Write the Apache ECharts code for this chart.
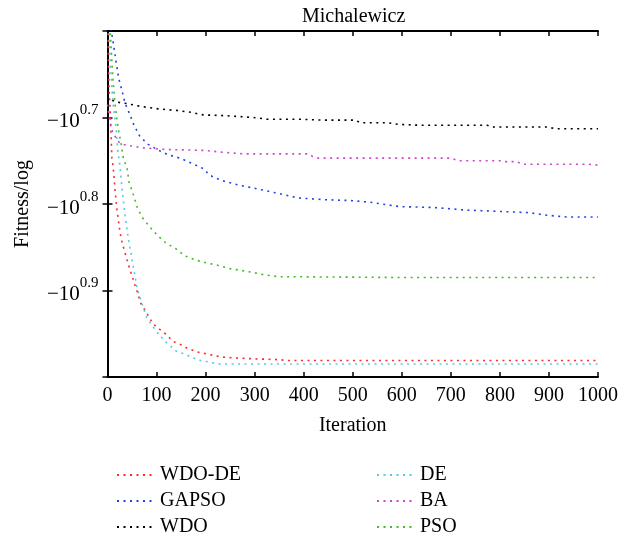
<!DOCTYPE html>
<html>
<head>
<meta charset="utf-8">
<script src="https://cdn.jsdelivr.net/npm/echarts@6/dist/echarts.min.js"></script>
<style>html,body{margin:0;padding:0;background:#fff}#c{width:634px;height:541px}</style>
</head>
<body>
<div id="c"></div>
<script>
// Values are exponents e of fitness = -10^e (log10 of |fitness|)
const xTicks = [0,100,200,300,400,500,600,700,800,900,1000];
const yTickExps = [0.7, 0.8, 0.9];

const wdodeIter = [0,2,3,5,6,7,8,9,11,13,15,19,23,26,30,36,41,47,55,61,68,80,92,102,118,134,151,163,183,207,234,260,300,350,370,1000];
const wdodeVal  = [0.55,0.636,0.663,0.686,0.701,0.717,0.732,0.747,0.755,0.766,0.782,0.805,0.822,0.834,0.845,0.857,0.867,0.878,0.892,0.902,0.915,0.926,0.938,0.943,0.950,0.959,0.963,0.967,0.971,0.974,0.977,0.978,0.979,0.980,0.981,0.981];

const gapsoIter = [0,11,17,23,30,36,40,46,54,66,83,101,123,148,172,195,209,234,266,293,342,389,442,495,536,595,664,730,818,859,896,936,1000];
const gapsoVal  = [0.575,0.611,0.634,0.655,0.670,0.684,0.689,0.697,0.709,0.722,0.731,0.737,0.743,0.747,0.753,0.759,0.767,0.773,0.778,0.781,0.787,0.793,0.795,0.796,0.798,0.803,0.804,0.807,0.809,0.810,0.813,0.815,0.815];

const wdoIter = [0,5,17,40,66,103,144,170,195,244,297,326,393,438,505,515,570,593,638,774,787,897,913,1000];
const wdoVal  = [0.675,0.679,0.682,0.684,0.687,0.690,0.692,0.694,0.697,0.698,0.700,0.702,0.702,0.703,0.703,0.706,0.706,0.708,0.709,0.709,0.711,0.711,0.713,0.713];

const deIter = [0,4,8,12,17,21,24,27,30,33,36,40,43,48,52,57,60,66,72,80,90,102,110,118,128,140,160,170,190,210,230,1000];
const deVal  = [0.55,0.613,0.659,0.687,0.710,0.739,0.750,0.766,0.785,0.799,0.815,0.830,0.842,0.857,0.871,0.886,0.897,0.907,0.918,0.931,0.940,0.949,0.954,0.959,0.964,0.970,0.974,0.977,0.981,0.983,0.985,0.985];

const baIter = [0,5,10,20,30,50,70,120,195,215,230,275,410,418,430,700,715,805,812,835,845,980,1000];
const baVal  = [0.685,0.705,0.716,0.727,0.731,0.733,0.735,0.737,0.738,0.739,0.740,0.742,0.742,0.745,0.747,0.747,0.750,0.750,0.751,0.751,0.754,0.754,0.755];

const psoIter = [0,4,7,9,11,15,19,23,28,30,32,40,42,44,52,60,70,87,103,119,140,158,181,201,226,252,275,295,321,348,611,1000];
const psoVal  = [0.52,0.58,0.615,0.635,0.655,0.683,0.701,0.717,0.731,0.739,0.746,0.759,0.767,0.775,0.788,0.803,0.815,0.827,0.837,0.845,0.852,0.860,0.865,0.868,0.871,0.875,0.877,0.879,0.882,0.884,0.885,0.885];

const seriesNames = ['WDO-DE','GAPSO','WDO','DE','BA','PSO'];
const seriesColors = ['#ff2a2a','#2244dd','#000000','#55ccdd','#cc44cc','#44bb22'];
const seriesIters = [wdodeIter,gapsoIter,wdoIter,deIter,baIter,psoIter];
const seriesVals = [wdodeVal,gapsoVal,wdoVal,deVal,baVal,psoVal];

const FONT = '"Liberation Serif", "Times New Roman", serif';

const chart = echarts.init(document.getElementById('c'), null, {renderer:'canvas'});

const series = seriesNames.map((n,i)=>({
  name: n,
  type: 'line',
  xAxisIndex: 0,
  yAxisIndex: 0,
  symbol: 'none',
  clip: true,
  animation: false,
  color: seriesColors[i],
  lineStyle: {color: seriesColors[i], width: 1.6, type: [2, 4.5], cap: 'butt'},
  data: seriesIters[i].map((x,k)=>[x, seriesVals[i][k]])
}));

function yLabel(v){
  const r = Math.round(v*10)/10;
  if (!yTickExps.some(t=>Math.abs(t-r)<1e-6)) return '';
  return '{a|\u221210}{b|' + r.toFixed(1) + '}';
}

const axisLine = {show:true, lineStyle:{color:'#000', width:2}};
const axisTick = {show:true, inside:true, length:5, lineStyle:{color:'#000', width:1.5}};

function legendCol(names, left){
  return {
    data: names,
    orient: 'vertical',
    left: left, top: 460, height: 120, width: 200,
    itemWidth: 36, itemHeight: 12, itemGap: 6,
    itemStyle: {opacity: 0},
    textStyle: {fontFamily: FONT, fontSize: 20, color: '#000', lineHeight: 20, padding: [0,0,0,2]}
  };
}

const option = {
  animation: false,
  backgroundColor: '#fff',
  title: {
    text: 'Michalewicz',
    left: 297, top: 2,
    textStyle: {fontFamily: FONT, fontSize: 20, fontWeight: 'normal', color: '#000'}
  },
  grid: {left: 107.5, right: 36, top: 31, bottom: 164, show: false},
  legend: [
    legendCol(['WDO-DE','GAPSO','WDO'], 111),
    legendCol(['DE','BA','PSO'], 371)
  ],
  xAxis: [
    {
      type: 'value', position: 'bottom', min: 0, max: 1000, interval: 100,
      axisLine: axisLine, axisTick: axisTick, splitLine: {show:false},
      axisLabel: {
        margin: 9, color: '#000', fontFamily: FONT, fontSize: 20,
        formatter: v => xTicks.includes(v) ? String(v) : ''
      },
      name: 'Iteration', nameLocation: 'middle', nameGap: 39,
      nameTextStyle: {fontFamily: FONT, fontSize: 20, color: '#000'}
    },
    {
      type: 'value', position: 'top', min: 0, max: 1000, interval: 100,
      axisLine: axisLine, axisTick: axisTick, splitLine: {show:false},
      axisLabel: {show: false}
    }
  ],
  yAxis: [
    {
      type: 'value', position: 'left', min: 0.6, max: 1.0, interval: 0.1, inverse: true,
      axisLine: axisLine, axisTick: axisTick, splitLine: {show:false},
      axisLabel: {
        margin: 9, color: '#000', fontFamily: FONT,
        formatter: yLabel,
        rich: {
          a: {fontFamily: FONT, fontSize: 21, color: '#000', padding: [8,0,0,0]},
          b: {fontFamily: FONT, fontSize: 15, color: '#000', verticalAlign: 'top'}
        }
      },
      name: 'Fitness/log', nameLocation: 'middle', nameGap: 75,
      nameTextStyle: {fontFamily: FONT, fontSize: 20, color: '#000'}
    },
    {
      type: 'value', position: 'right', min: 0.6, max: 1.0, interval: 0.1, inverse: true,
      axisLine: axisLine, axisTick: axisTick, splitLine: {show:false},
      axisLabel: {show: false}
    }
  ],
  series: series
};
chart.setOption(option);
</script>
</body>
</html>
